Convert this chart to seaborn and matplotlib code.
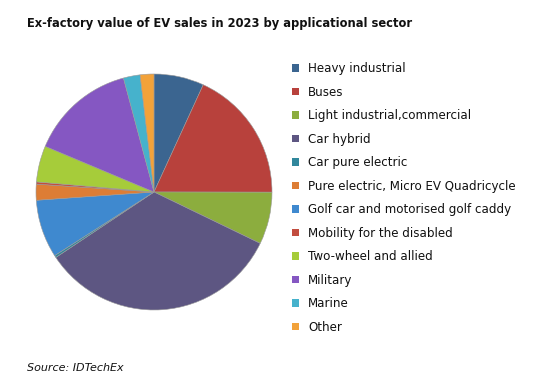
import matplotlib
matplotlib.use("Agg")
import matplotlib.pyplot as plt
import seaborn as sns
from matplotlib.patches import Patch

# data (share of ex-factory value, %)
sectors = ["Heavy industrial", "Buses", "Light industrial,commercial", "Car hybrid",
           "Car pure electric", "Golf car and motorised golf caddy", "Pure electric, Micro EV Quadricycle",
           "Mobility for the disabled", "Two-wheel and allied", "Military", "Marine", "Other"]
shares = [6.9, 18.3, 7.2, 33.7, 0.3, 8.0, 2.2, 0.3, 5.0, 14.6, 2.3, 1.9]

legend_order = ["Heavy industrial", "Buses", "Light industrial,commercial", "Car hybrid",
                "Car pure electric", "Pure electric, Micro EV Quadricycle",
                "Golf car and motorised golf caddy", "Mobility for the disabled",
                "Two-wheel and allied", "Military", "Marine", "Other"]

colors = {
    "Heavy industrial": "#3b6590",
    "Buses": "#b8413c",
    "Light industrial,commercial": "#8cad3e",
    "Car hybrid": "#5d5682",
    "Car pure electric": "#31879c",
    "Pure electric, Micro EV Quadricycle": "#dd7d35",
    "Golf car and motorised golf caddy": "#3f89cf",
    "Mobility for the disabled": "#c24d3f",
    "Two-wheel and allied": "#a6cc3a",
    "Military": "#8557c2",
    "Marine": "#46b2cc",
    "Other": "#f2a23a",
}

sns.set_style("white")
plt.rcParams['font.family'] = ['DejaVu Sans']

fig = plt.figure(figsize=(5.4, 3.89), dpi=100)

# pie centred at (154, 192) px with radius ~118 px
ax = fig.add_axes([36 / 540, 79 / 389, 236 / 540, 236 / 389])
ax.pie(shares, colors=[colors[s] for s in sectors], startangle=90, counterclock=False,
       wedgeprops=dict(linewidth=0.4, edgecolor="#9a9a9a"))
ax.set_xlim(-1, 1)
ax.set_ylim(-1, 1)
ax.set_aspect("equal")
ax.axis("off")

fig.text(27 / 540, 1 - 23 / 389, "Ex-factory value of EV sales in 2023 by applicational sector",
         fontsize=8.3, fontweight="bold", va="center", ha="left", color="#111111")
fig.text(27 / 540, 1 - 368 / 389, "Source: IDTechEx", fontsize=8, style="italic",
         va="center", ha="left", color="#111111")

handles = [Patch(facecolor=colors[s], edgecolor="none") for s in legend_order]
fig.legend(handles, legend_order, loc="upper left", bbox_to_anchor=(292 / 540, 1 - 62 / 389),
           frameon=False, fontsize=8.6, handlelength=0.6, handleheight=0.6,
           handletextpad=0.75, labelspacing=0.88, borderaxespad=0, borderpad=0,
           labelcolor="#111111")

plt.savefig("out.png", dpi=100)
